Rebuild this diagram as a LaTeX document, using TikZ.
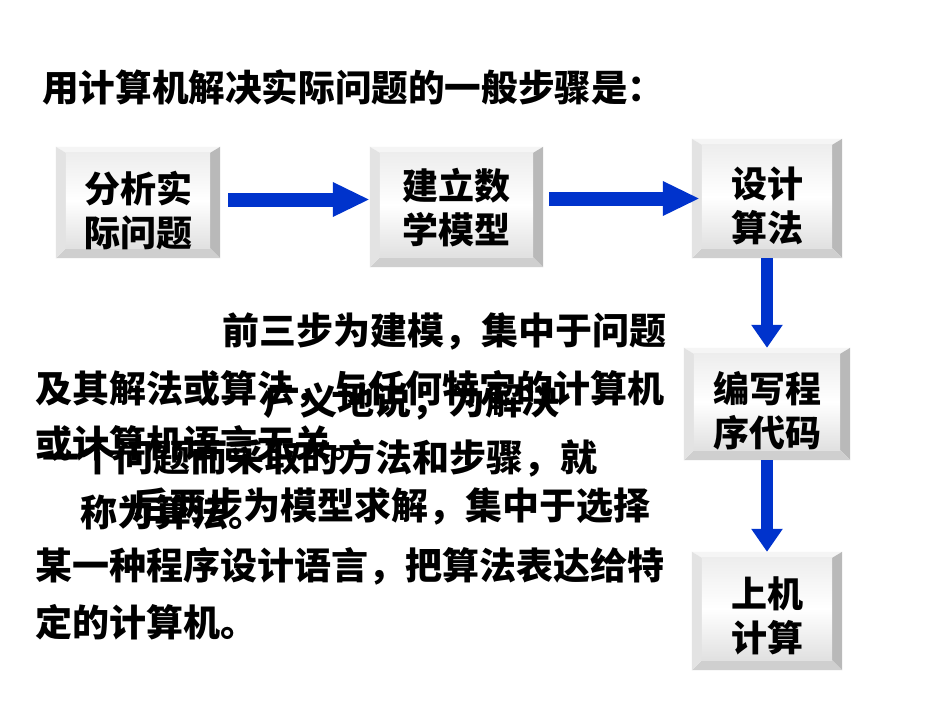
\documentclass[tikz,border=0pt]{standalone}
\usepackage{fontspec}
\setmainfont{Noto Sans CJK SC}
\usetikzlibrary{arrows.meta,calc}
\definecolor{arrowblue}{HTML}{0033CC}
\tikzset{
  boxshape/.style={rectangle, inner sep=0pt, draw=none},
  boxtext/.style={inner sep=0pt, align=center, font=\fontsize{36}{44}\selectfont\bfseries},
  bodytext/.style={inner sep=0pt, anchor=base west, font=\fontsize{37}{44}\selectfont\bfseries},
  hflow/.style={draw=arrowblue, line width=14pt, -{Triangle[width=32pt,length=37pt]}},
  vflow/.style={draw=arrowblue, line width=12pt, -{Triangle[width=30pt,length=23pt]}},
  bevtop/.style={fill=gray!8},
  bevleft/.style={fill=gray!22},
  bevright/.style={fill=gray!55},
  bevbot/.style={fill=gray!38},
}
\begin{document}
\begin{tikzpicture}[x=1pt,y=-1pt]
\useasboundingbox (0,0) rectangle (950,713);
\fill[white] (0,0) rectangle (950,713);

% boxes
\node[boxshape, minimum width=164pt, minimum height=111pt] (b1) at (138,202.5) {};
\node[boxshape, minimum width=173pt, minimum height=120pt] (b2) at (456.5,207) {};
\node[boxshape, minimum width=150pt, minimum height=119pt] (b3) at (767,198.5) {};
\node[boxshape, minimum width=166pt, minimum height=112pt] (b4) at (767,404) {};
\node[boxshape, minimum width=150pt, minimum height=118pt] (b5) at (767,611) {};

\foreach \n in {b1,b2,b3,b4,b5}{
  \coordinate (\n-a) at ([shift={(10pt,-6pt)}]\n.north west);
  \coordinate (\n-b) at ([shift={(-10pt,-6pt)}]\n.north east);
  \coordinate (\n-c) at ([shift={(-10pt,10pt)}]\n.south east);
  \coordinate (\n-d) at ([shift={(10pt,10pt)}]\n.south west);
  \fill[bevtop] (\n.north west) -- (\n.north east) -- (\n-b) -- (\n-a) -- cycle;
  \fill[bevright] (\n.north east) -- (\n.south east) -- (\n-c) -- (\n-b) -- cycle;
  \fill[bevbot] (\n.south east) -- (\n.south west) -- (\n-d) -- (\n-c) -- cycle;
  \fill[bevleft] (\n.south west) -- (\n.north west) -- (\n-a) -- (\n-d) -- cycle;
  \shade[top color=gray!14, bottom color=gray!24, middle color=white] (\n-a) rectangle (\n-c);
}

% box texts
\node[boxtext] (t1) at ([yshift=-8pt]b1.center) {分析实\\际问题};
\node[boxtext] (t2) at ([yshift=-1pt]b2.center) {建立数\\学模型};
\node[boxtext] (t3) at ([yshift=-7pt]b3.center) {设计\\算法};
\node[boxtext] (t4) at ([yshift=-7pt]b4.center) {编写程\\序代码};
\node[boxtext] (t5) at ([yshift=-5pt]b5.center) {上机\\计算};

% arrows
\draw[hflow] ([shift={(8pt,3pt)}]b1.east) -- ([yshift=3pt]b1.east -| b2.west);
\draw[hflow] ([xshift=6pt]b2.east |- b3.west) -- ([xshift=8pt]b3.west);
\draw[vflow] (b3.south) -- (b4.north);
\draw[vflow] (b4.south) -- (b5.north);

% title
\node[bodytext, font=\fontsize{36.6}{44}\selectfont\bfseries] (title) at (42,101) {用计算机解决实际问题的一般步骤是：};

% main paragraph
\node[bodytext] (l1) at (222,344) {前三步为建模，集中于问题};
\node[bodytext] (l2) at (35,402) {及其解法或算法，与任何特定的计算机};
\node[bodytext] (l3) at (35,457) {或计算机语言无关。};
\node[bodytext] (l4) at (132,519) {后两步为模型求解，集中于选择};
\node[bodytext] (l5) at (35,579) {某一种程序设计语言，把算法表达给特};
\node[bodytext] (l6) at (35,636) {定的计算机。};

% overlapping paragraph
\node[bodytext] (o1) at (263,414) {广义地说，为解决};
\node[bodytext] (o2) at (42,471) {一个问题而采取的方法和步骤，就};
\node[bodytext] (o3) at (80,526) {称为算法。};
\end{tikzpicture}
\end{document}
